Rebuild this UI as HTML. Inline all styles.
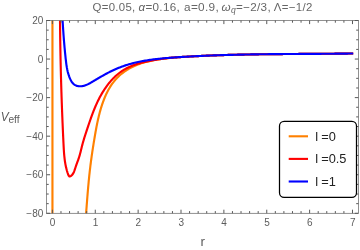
<!DOCTYPE html>
<html><head><meta charset="utf-8">
<style>
html,body{margin:0;padding:0;background:#fff;}
body{width:360px;height:250px;overflow:hidden;position:relative;font-family:"Liberation Sans",sans-serif;}
svg{position:absolute;left:0;top:0;will-change:transform;}
text{font-family:"Liberation Sans",sans-serif;}
</style></head><body>
<svg width="360" height="250" viewBox="0 0 360 250">
<rect width="360" height="250" fill="#fff"/>
<defs><clipPath id="cp"><rect x="46.50" y="20.50" width="311.90" height="192.80"/></clipPath></defs>
<g font-size="11.3" fill="#666" letter-spacing="0.3">
<text transform="translate(92.5,10.8) scale(1.01,1)">Q=0.05,</text>
<text transform="translate(138.5,10.8) scale(1.03,1)"><tspan font-style="italic">α</tspan>=0.16,</text>
<text transform="translate(184.0,10.8) scale(1.045,1)">a=0.9,</text>
<text transform="translate(221.5,10.8) scale(1.035,1)"><tspan font-style="italic">ω</tspan><tspan font-style="italic" font-size="8.3" dy="2.2">q</tspan><tspan dy="-2.2">=−2/3,</tspan></text>
<text transform="translate(273.8,10.8) scale(1.015,1)">Λ=−1/2</text>
</g>
<g clip-path="url(#cp)" fill="none" stroke-width="2.15" stroke-linejoin="round">
<path d="M52.45,0 L52.45,230" stroke="#FF8000"/>
<path d="M85.16,224.99 L85.26,223.80 L85.36,222.61 L85.46,221.41 L85.56,220.22 L85.65,219.02 L85.75,217.83 L85.84,216.63 L85.94,215.44 L86.03,214.24 L86.12,213.04 L86.21,211.85 L86.31,210.65 L86.40,209.45 L86.49,208.25 L86.58,207.05 L86.67,205.86 L86.76,204.66 L86.86,203.46 L86.95,202.26 L87.04,201.06 L87.13,199.86 L87.23,198.66 L87.32,197.46 L87.42,196.26 L87.51,195.06 L87.61,193.87 L87.71,192.67 L87.81,191.47 L87.91,190.27 L88.01,189.07 L88.12,187.87 L88.22,186.68 L88.33,185.48 L88.44,184.28 L88.55,183.08 L88.66,181.89 L88.77,180.69 L88.89,179.49 L89.01,178.30 L89.13,177.10 L89.25,175.91 L89.38,174.72 L89.51,173.52 L89.64,172.33 L89.77,171.14 L89.91,169.95 L90.05,168.76 L90.19,167.57 L90.33,166.38 L90.48,165.19 L90.63,164.00 L90.78,162.81 L90.94,161.62 L91.10,160.44 L91.26,159.25 L91.42,158.07 L91.59,156.88 L91.75,155.70 L91.93,154.51 L92.10,153.33 L92.27,152.14 L92.45,150.96 L92.63,149.78 L92.81,148.59 L92.99,147.41 L93.18,146.23 L93.37,145.05 L93.55,143.86 L93.75,142.68 L93.94,141.50 L94.13,140.32 L94.33,139.13 L94.53,137.95 L94.73,136.77 L94.93,135.59 L95.13,134.41 L95.34,133.22 L95.54,132.04 L95.75,130.86 L95.97,129.68 L96.19,128.50 L96.41,127.32 L96.64,126.14 L96.87,124.96 L97.11,123.78 L97.35,122.61 L97.60,121.43 L97.86,120.25 L98.12,119.08 L98.39,117.91 L98.67,116.73 L98.96,115.56 L99.25,114.39 L99.55,113.22 L99.86,112.06 L100.19,110.89 L100.52,109.73 L100.86,108.57 L101.21,107.41 L101.57,106.25 L101.95,105.09 L102.33,103.94 L102.73,102.79 L103.14,101.65 L103.56,100.51 L104.00,99.37 L104.45,98.24 L104.91,97.12 L105.39,96.01 L105.89,94.90 L106.40,93.81 L106.92,92.72 L107.46,91.64 L108.02,90.58 L108.60,89.52 L109.19,88.48 L109.80,87.45 L110.43,86.44 L111.07,85.44 L111.74,84.45 L112.42,83.49 L113.13,82.53 L113.85,81.60 L114.60,80.68 L115.37,79.78 L116.16,78.90 L116.97,78.04 L117.79,77.20 L118.64,76.38 L119.51,75.58 L120.40,74.79 L121.30,74.03 L122.22,73.29 L123.16,72.56 L124.12,71.86 L125.09,71.17 L126.07,70.51 L127.07,69.87 L128.09,69.24 L129.12,68.64 L130.16,68.05 L131.21,67.49 L132.28,66.95 L133.35,66.43 L134.44,65.92 L135.54,65.44 L136.65,64.98 L137.77,64.54 L138.89,64.12 L140.03,63.72 L141.17,63.33 L142.32,62.97 L143.47,62.62 L144.64,62.29 L145.80,61.97 L146.97,61.67 L148.15,61.38 L149.33,61.11 L150.51,60.85 L151.70,60.60 L152.89,60.37 L154.08,60.14 L155.27,59.93 L156.46,59.73 L157.65,59.54 L158.85,59.35 L160.04,59.18 L161.24,59.01 L162.44,58.84 L163.63,58.66 L164.83,58.50 L166.03,58.34 L167.23,58.20 L168.43,58.06 L169.63,57.93 L170.83,57.81 L172.02,57.70 L173.22,57.59 L174.42,57.49 L175.62,57.40 L176.82,57.31 L178.01,57.22 L179.21,57.15 L180.41,57.07 L181.61,56.99 L182.80,56.92 L184.00,56.85 L185.20,56.77 L186.40,56.70 L187.59,56.63 L188.79,56.56 L189.99,56.50 L191.18,56.43 L192.38,56.37 L193.58,56.30 L194.78,56.24 L195.97,56.18 L197.17,56.12 L198.37,56.06 L199.56,56.01 L200.76,55.95 L201.96,55.89 L203.15,55.84 L204.35,55.79 L205.55,55.73 L206.74,55.68 L207.94,55.63 L209.14,55.58 L210.34,55.54 L211.53,55.49 L212.73,55.44 L213.93,55.40 L215.13,55.35 L216.32,55.31 L217.52,55.27 L218.72,55.23 L219.92,55.19 L221.11,55.15 L222.31,55.11 L223.51,55.07 L224.71,55.04 L225.91,55.00 L227.11,54.97 L228.30,54.93 L229.50,54.90 L230.70,54.87 L231.90,54.84 L233.10,54.80 L234.30,54.77 L235.50,54.74 L236.70,54.72 L237.90,54.69 L239.10,54.66 L240.30,54.63 L241.50,54.61 L242.70,54.58 L243.90,54.56 L245.10,54.54 L246.30,54.51 L247.50,54.49 L248.70,54.47 L249.90,54.45 L251.11,54.43 L252.31,54.41 L253.51,54.39 L254.71,54.37 L255.91,54.35 L257.11,54.33 L258.31,54.32 L259.51,54.30 L260.72,54.28 L261.92,54.27 L263.12,54.25 L264.32,54.24 L265.52,54.22 L266.72,54.21 L267.93,54.19 L269.13,54.18 L270.33,54.17 L271.53,54.16 L272.73,54.14 L273.94,54.13 L275.14,54.12 L276.34,54.11 L277.54,54.10 L278.74,54.09 L279.95,54.08 L281.15,54.07 L282.35,54.06 L283.55,54.05 L284.75,54.04 L285.96,54.03 L287.16,54.02 L288.36,54.01 L289.56,54.01 L290.77,54.00 L291.97,53.99 L293.17,53.98 L294.37,53.97 L295.57,53.97 L296.78,53.96 L297.98,53.95 L299.18,53.94 L300.38,53.94 L301.58,53.93 L302.79,53.92 L303.99,53.91 L305.19,53.91 L306.39,53.90 L307.59,53.89 L308.79,53.89 L310.00,53.88 L311.20,53.87 L312.40,53.86 L313.60,53.86 L314.80,53.85 L316.00,53.84 L317.20,53.83 L318.41,53.82 L319.61,53.82 L320.81,53.81 L322.01,53.80 L323.21,53.79 L324.41,53.78 L325.61,53.77 L326.81,53.76 L328.01,53.75 L329.21,53.74 L330.41,53.73 L331.61,53.72 L332.81,53.71 L334.01,53.70 L335.21,53.69 L336.41,53.68 L337.61,53.67 L338.81,53.66 L340.01,53.64 L341.21,53.63 L342.41,53.62 L343.61,53.60 L344.81,53.59 L346.00,53.58 L347.20,53.56 L348.40,53.55 L349.60,53.53 L350.80,53.51 L352.00,53.50 L353.19,53.48" stroke="#FF8000"/>
<path d="M59.95,-0.02 L59.95,1.19 L59.95,2.39 L59.95,3.59 L59.95,4.80 L59.96,6.00 L59.96,7.20 L59.96,8.41 L59.97,9.61 L59.97,10.81 L59.98,12.01 L59.98,13.22 L59.99,14.42 L59.99,15.62 L60.00,16.82 L60.01,18.02 L60.02,19.23 L60.03,20.43 L60.03,21.63 L60.04,22.83 L60.05,24.03 L60.06,25.23 L60.07,26.43 L60.09,27.63 L60.10,28.83 L60.11,30.03 L60.12,31.23 L60.14,32.43 L60.15,33.63 L60.16,34.83 L60.18,36.03 L60.19,37.23 L60.21,38.43 L60.23,39.63 L60.24,40.83 L60.26,42.03 L60.28,43.23 L60.30,44.43 L60.32,45.63 L60.34,46.83 L60.36,48.03 L60.38,49.23 L60.40,50.43 L60.42,51.63 L60.44,52.82 L60.46,54.02 L60.48,55.22 L60.51,56.42 L60.53,57.62 L60.55,58.82 L60.58,60.02 L60.60,61.21 L60.63,62.41 L60.66,63.61 L60.68,64.81 L60.71,66.01 L60.74,67.21 L60.77,68.41 L60.79,69.60 L60.82,70.80 L60.85,72.00 L60.88,73.20 L60.91,74.40 L60.94,75.60 L60.98,76.79 L61.01,77.99 L61.04,79.19 L61.07,80.39 L61.11,81.59 L61.14,82.79 L61.18,83.98 L61.21,85.18 L61.25,86.38 L61.28,87.58 L61.32,88.78 L61.36,89.98 L61.39,91.18 L61.43,92.38 L61.47,93.57 L61.51,94.77 L61.55,95.97 L61.59,97.17 L61.63,98.37 L61.67,99.57 L61.71,100.77 L61.75,101.97 L61.79,103.17 L61.84,104.37 L61.88,105.57 L61.92,106.76 L61.97,107.96 L62.01,109.16 L62.06,110.36 L62.10,111.56 L62.15,112.76 L62.20,113.96 L62.24,115.16 L62.29,116.36 L62.34,117.56 L62.39,118.77 L62.44,119.97 L62.48,121.17 L62.53,122.37 L62.59,123.57 L62.64,124.77 L62.69,125.97 L62.74,127.17 L62.79,128.37 L62.85,129.58 L62.90,130.78 L62.95,131.98 L63.01,133.18 L63.06,134.38 L63.12,135.59 L63.17,136.79 L63.23,137.99 L63.29,139.20 L63.34,140.40 L63.40,141.60 L63.46,142.81 L63.52,144.01 L63.58,145.21 L63.64,146.42 L63.70,147.62 L63.77,148.82 L63.84,150.03 L63.92,151.23 L64.00,152.43 L64.09,153.63 L64.19,154.83 L64.30,156.02 L64.43,157.22 L64.56,158.41 L64.71,159.60 L64.87,160.79 L65.04,161.98 L65.23,163.16 L65.44,164.34 L65.67,165.52 L65.92,166.69 L66.18,167.86 L66.47,169.03 L66.78,170.19 L67.12,171.35 L67.47,172.50 L67.86,173.65 L68.27,174.78 L68.76,175.76 L69.38,176.34 L70.17,176.36 L71.09,175.88 L72.01,175.04 L72.83,174.01 L73.50,172.88 L74.05,171.68 L74.52,170.45 L74.93,169.20 L75.32,167.97 L75.71,166.77 L76.11,165.60 L76.52,164.46 L76.92,163.34 L77.33,162.24 L77.73,161.15 L78.13,160.06 L78.51,158.97 L78.88,157.88 L79.23,156.77 L79.57,155.64 L79.89,154.50 L80.20,153.34 L80.50,152.18 L80.79,151.01 L81.08,149.84 L81.36,148.66 L81.65,147.48 L81.95,146.30 L82.25,145.13 L82.55,143.96 L82.87,142.79 L83.20,141.63 L83.54,140.48 L83.88,139.33 L84.23,138.18 L84.58,137.03 L84.94,135.89 L85.31,134.75 L85.68,133.61 L86.05,132.48 L86.43,131.34 L86.80,130.20 L87.18,129.07 L87.56,127.93 L87.94,126.80 L88.32,125.66 L88.71,124.52 L89.09,123.39 L89.48,122.25 L89.87,121.11 L90.26,119.98 L90.66,118.85 L91.06,117.72 L91.47,116.59 L91.88,115.46 L92.30,114.33 L92.72,113.21 L93.15,112.09 L93.59,110.97 L94.03,109.85 L94.48,108.74 L94.94,107.63 L95.41,106.53 L95.88,105.43 L96.37,104.33 L96.86,103.24 L97.37,102.15 L97.88,101.07 L98.41,99.99 L98.94,98.92 L99.49,97.85 L100.05,96.79 L100.63,95.73 L101.21,94.68 L101.81,93.64 L102.43,92.60 L103.05,91.57 L103.70,90.55 L104.35,89.54 L105.02,88.54 L105.70,87.54 L106.40,86.56 L107.11,85.58 L107.84,84.62 L108.58,83.67 L109.34,82.74 L110.11,81.82 L110.90,80.91 L111.70,80.01 L112.51,79.14 L113.35,78.27 L114.19,77.43 L115.05,76.60 L115.93,75.79 L116.82,75.00 L117.73,74.23 L118.66,73.48 L119.60,72.75 L120.55,72.04 L121.52,71.35 L122.51,70.69 L123.51,70.05 L124.53,69.43 L125.57,68.84 L126.62,68.27 L127.69,67.72 L128.77,67.20 L129.86,66.71 L130.97,66.23 L132.09,65.77 L133.21,65.34 L134.35,64.92 L135.50,64.52 L136.65,64.14 L137.81,63.78 L138.97,63.43 L140.14,63.10 L141.31,62.78 L142.49,62.47 L143.66,62.18 L144.84,61.90 L146.01,61.63 L147.19,61.38 L148.37,61.13 L149.54,60.89 L150.72,60.67 L151.90,60.45 L153.08,60.24 L154.26,60.04 L155.44,59.84 L156.62,59.66 L157.80,59.48 L158.98,59.30 L160.16,59.13 L161.35,58.97 L162.53,58.80 L163.71,58.63 L164.90,58.46 L166.09,58.31 L167.27,58.16 L168.46,58.03 L169.65,57.90 L170.84,57.78 L172.03,57.67 L173.22,57.57 L174.41,57.47 L175.60,57.39 L176.80,57.31 L177.99,57.23 L179.18,57.15 L180.38,57.07 L181.57,56.99 L182.77,56.92 L183.96,56.85 L185.16,56.78 L186.36,56.70 L187.55,56.64 L188.75,56.57 L189.95,56.50 L191.15,56.43 L192.35,56.37 L193.55,56.31 L194.74,56.24 L195.94,56.18 L197.14,56.12 L198.35,56.06 L199.55,56.01 L200.75,55.95 L201.95,55.89 L203.15,55.84 L204.35,55.79 L205.55,55.73 L206.75,55.68 L207.96,55.63 L209.16,55.58 L210.36,55.54 L211.56,55.49 L212.77,55.44 L213.97,55.40 L215.17,55.35 L216.37,55.31 L217.58,55.27 L218.78,55.23 L219.98,55.19 L221.18,55.15 L222.39,55.11 L223.59,55.07 L224.79,55.03 L225.99,55.00 L227.19,54.96 L228.40,54.93 L229.60,54.90 L230.80,54.86 L232.00,54.83 L233.20,54.80 L234.40,54.77 L235.61,54.74 L236.81,54.71 L238.01,54.69 L239.21,54.66 L240.41,54.63 L241.61,54.61 L242.81,54.58 L244.01,54.56 L245.21,54.53 L246.41,54.51 L247.61,54.49 L248.81,54.47 L250.01,54.45 L251.21,54.43 L252.41,54.41 L253.61,54.39 L254.81,54.37 L256.01,54.35 L257.21,54.33 L258.41,54.31 L259.61,54.30 L260.81,54.28 L262.01,54.27 L263.21,54.25 L264.41,54.24 L265.60,54.22 L266.80,54.21 L268.00,54.19 L269.20,54.18 L270.40,54.17 L271.60,54.16 L272.80,54.14 L274.00,54.13 L275.20,54.12 L276.40,54.11 L277.59,54.10 L278.79,54.09 L279.99,54.08 L281.19,54.07 L282.39,54.06 L283.59,54.05 L284.79,54.04 L285.99,54.03 L287.18,54.02 L288.38,54.01 L289.58,54.01 L290.78,54.00 L291.98,53.99 L293.18,53.98 L294.38,53.97 L295.58,53.97 L296.78,53.96 L297.97,53.95 L299.17,53.94 L300.37,53.94 L301.57,53.93 L302.77,53.92 L303.97,53.91 L305.17,53.91 L306.37,53.90 L307.57,53.89 L308.77,53.89 L309.97,53.88 L311.17,53.87 L312.37,53.86 L313.56,53.86 L314.76,53.85 L315.96,53.84 L317.16,53.83 L318.36,53.82 L319.56,53.82 L320.76,53.81 L321.96,53.80 L323.16,53.79 L324.36,53.78 L325.57,53.77 L326.77,53.76 L327.97,53.75 L329.17,53.75 L330.37,53.74 L331.57,53.72 L332.77,53.71 L333.97,53.70 L335.17,53.69 L336.37,53.68 L337.58,53.67 L338.78,53.66 L339.98,53.64 L341.18,53.63 L342.38,53.62 L343.58,53.60 L344.79,53.59 L345.99,53.58 L347.19,53.56 L348.39,53.55 L349.60,53.53 L350.80,53.51 L352.00,53.50 L353.21,53.48" stroke="#FF0000"/>
<path d="M61.63,-0.01 L61.67,1.20 L61.73,2.41 L61.78,3.62 L61.83,4.83 L61.88,6.04 L61.93,7.25 L61.99,8.45 L62.05,9.66 L62.10,10.86 L62.16,12.07 L62.22,13.27 L62.28,14.47 L62.34,15.67 L62.41,16.87 L62.47,18.07 L62.54,19.27 L62.60,20.47 L62.67,21.67 L62.74,22.87 L62.81,24.06 L62.89,25.26 L62.96,26.46 L63.04,27.65 L63.11,28.85 L63.19,30.05 L63.28,31.24 L63.36,32.44 L63.44,33.63 L63.53,34.83 L63.62,36.02 L63.71,37.22 L63.80,38.41 L63.89,39.61 L63.99,40.80 L64.09,42.00 L64.19,43.20 L64.29,44.39 L64.40,45.59 L64.50,46.79 L64.61,47.98 L64.72,49.18 L64.84,50.38 L64.95,51.58 L65.07,52.78 L65.19,53.98 L65.31,55.18 L65.44,56.38 L65.56,57.58 L65.69,58.78 L65.83,59.98 L65.97,61.19 L66.11,62.39 L66.26,63.59 L66.43,64.79 L66.61,65.99 L66.80,67.19 L67.02,68.38 L67.25,69.57 L67.51,70.76 L67.79,71.94 L68.11,73.12 L68.45,74.28 L68.82,75.45 L69.23,76.60 L69.68,77.75 L70.17,78.89 L70.70,79.99 L71.29,81.05 L71.93,82.06 L72.64,82.98 L73.41,83.81 L74.26,84.54 L75.19,85.14 L76.20,85.61 L77.28,85.94 L78.41,86.16 L79.57,86.26 L80.76,86.25 L81.96,86.14 L83.15,85.94 L84.32,85.65 L85.47,85.29 L86.59,84.86 L87.69,84.37 L88.78,83.84 L89.85,83.27 L90.92,82.66 L91.98,82.04 L93.03,81.41 L94.08,80.78 L95.14,80.15 L96.19,79.52 L97.25,78.89 L98.30,78.27 L99.36,77.65 L100.42,77.04 L101.47,76.43 L102.53,75.83 L103.60,75.23 L104.66,74.64 L105.72,74.05 L106.79,73.48 L107.86,72.91 L108.94,72.35 L110.01,71.80 L111.09,71.26 L112.17,70.74 L113.26,70.22 L114.35,69.71 L115.44,69.22 L116.54,68.74 L117.64,68.27 L118.75,67.82 L119.86,67.38 L120.97,66.95 L122.09,66.54 L123.21,66.14 L124.34,65.75 L125.47,65.38 L126.60,65.01 L127.74,64.66 L128.88,64.32 L130.02,63.99 L131.17,63.68 L132.32,63.37 L133.48,63.07 L134.63,62.79 L135.80,62.51 L136.96,62.24 L138.12,61.99 L139.29,61.74 L140.46,61.50 L141.64,61.27 L142.82,61.05 L143.99,60.84 L145.17,60.64 L146.36,60.44 L147.54,60.25 L148.73,60.07 L149.92,59.89 L151.11,59.73 L152.30,59.56 L153.50,59.41 L154.69,59.26 L155.89,59.12 L157.09,58.98 L158.29,58.85 L159.49,58.72 L160.69,58.60 L161.89,58.48 L163.10,58.37 L164.30,58.26 L165.51,58.15 L166.71,58.05 L167.92,57.95 L169.13,57.86 L170.33,57.76 L171.54,57.67 L172.75,57.59 L173.96,57.50 L175.16,57.42 L176.37,57.33 L177.58,57.25 L178.78,57.17 L179.99,57.10 L181.20,57.02 L182.40,56.94 L183.61,56.87 L184.82,56.80 L186.02,56.72 L187.23,56.65 L188.43,56.58 L189.64,56.52 L190.84,56.45 L192.05,56.39 L193.25,56.32 L194.46,56.26 L195.66,56.20 L196.87,56.14 L198.07,56.08 L199.27,56.02 L200.48,55.96 L201.68,55.91 L202.89,55.85 L204.09,55.80 L205.29,55.75 L206.50,55.69 L207.70,55.64 L208.90,55.59 L210.10,55.55 L211.31,55.50 L212.51,55.45 L213.71,55.41 L214.91,55.36 L216.12,55.32 L217.32,55.28 L218.52,55.24 L219.72,55.20 L220.93,55.16 L222.13,55.12 L223.33,55.08 L224.53,55.04 L225.73,55.01 L226.93,54.97 L228.13,54.94 L229.34,54.90 L230.54,54.87 L231.74,54.84 L232.94,54.81 L234.14,54.78 L235.34,54.75 L236.54,54.72 L237.74,54.69 L238.94,54.66 L240.14,54.64 L241.35,54.61 L242.55,54.59 L243.75,54.56 L244.95,54.54 L246.15,54.52 L247.35,54.49 L248.55,54.47 L249.75,54.45 L250.95,54.43 L252.15,54.41 L253.35,54.39 L254.55,54.37 L255.75,54.35 L256.95,54.34 L258.15,54.32 L259.35,54.30 L260.55,54.28 L261.75,54.27 L262.95,54.25 L264.15,54.24 L265.35,54.22 L266.56,54.21 L267.76,54.20 L268.96,54.18 L270.16,54.17 L271.36,54.16 L272.56,54.15 L273.76,54.13 L274.96,54.12 L276.16,54.11 L277.36,54.10 L278.56,54.09 L279.76,54.08 L280.96,54.07 L282.16,54.06 L283.37,54.05 L284.57,54.04 L285.77,54.03 L286.97,54.02 L288.17,54.02 L289.37,54.01 L290.57,54.00 L291.78,53.99 L292.98,53.98 L294.18,53.97 L295.38,53.97 L296.58,53.96 L297.78,53.95 L298.99,53.94 L300.19,53.94 L301.39,53.93 L302.59,53.92 L303.80,53.92 L305.00,53.91 L306.20,53.90 L307.40,53.89 L308.61,53.89 L309.81,53.88 L311.01,53.87 L312.22,53.86 L313.42,53.86 L314.63,53.85 L315.83,53.84 L317.03,53.83 L318.24,53.83 L319.44,53.82 L320.65,53.81 L321.85,53.80 L323.06,53.79 L324.26,53.78 L325.47,53.77 L326.67,53.77 L327.88,53.76 L329.08,53.75 L330.29,53.74 L331.49,53.73 L332.70,53.71 L333.91,53.70 L335.11,53.69 L336.32,53.68 L337.53,53.67 L338.73,53.66 L339.94,53.64 L341.15,53.63 L342.36,53.62 L343.56,53.60 L344.77,53.59 L345.98,53.58 L347.19,53.56 L348.40,53.55 L349.61,53.53 L350.82,53.51 L352.02,53.50 L353.23,53.48" stroke="#0000FF"/>
</g>
<rect x="46.50" y="20.50" width="311.90" height="192.80" fill="none" stroke="#666" stroke-width="0.72"/>
<path d="M52.40,213.30 v-3.60 M52.40,20.50 v3.60 M60.97,213.30 v-2.20 M60.97,20.50 v2.20 M69.55,213.30 v-2.20 M69.55,20.50 v2.20 M78.12,213.30 v-2.20 M78.12,20.50 v2.20 M86.70,213.30 v-2.20 M86.70,20.50 v2.20 M95.27,213.30 v-3.60 M95.27,20.50 v3.60 M103.84,213.30 v-2.20 M103.84,20.50 v2.20 M112.42,213.30 v-2.20 M112.42,20.50 v2.20 M120.99,213.30 v-2.20 M120.99,20.50 v2.20 M129.57,213.30 v-2.20 M129.57,20.50 v2.20 M138.14,213.30 v-3.60 M138.14,20.50 v3.60 M146.71,213.30 v-2.20 M146.71,20.50 v2.20 M155.29,213.30 v-2.20 M155.29,20.50 v2.20 M163.86,213.30 v-2.20 M163.86,20.50 v2.20 M172.44,213.30 v-2.20 M172.44,20.50 v2.20 M181.01,213.30 v-3.60 M181.01,20.50 v3.60 M189.58,213.30 v-2.20 M189.58,20.50 v2.20 M198.16,213.30 v-2.20 M198.16,20.50 v2.20 M206.73,213.30 v-2.20 M206.73,20.50 v2.20 M215.31,213.30 v-2.20 M215.31,20.50 v2.20 M223.88,213.30 v-3.60 M223.88,20.50 v3.60 M232.45,213.30 v-2.20 M232.45,20.50 v2.20 M241.03,213.30 v-2.20 M241.03,20.50 v2.20 M249.60,213.30 v-2.20 M249.60,20.50 v2.20 M258.18,213.30 v-2.20 M258.18,20.50 v2.20 M266.75,213.30 v-3.60 M266.75,20.50 v3.60 M275.32,213.30 v-2.20 M275.32,20.50 v2.20 M283.90,213.30 v-2.20 M283.90,20.50 v2.20 M292.47,213.30 v-2.20 M292.47,20.50 v2.20 M301.05,213.30 v-2.20 M301.05,20.50 v2.20 M309.62,213.30 v-3.60 M309.62,20.50 v3.60 M318.19,213.30 v-2.20 M318.19,20.50 v2.20 M326.77,213.30 v-2.20 M326.77,20.50 v2.20 M335.34,213.30 v-2.20 M335.34,20.50 v2.20 M343.92,213.30 v-2.20 M343.92,20.50 v2.20 M352.49,213.30 v-3.60 M352.49,20.50 v3.60 M46.50,213.30 h3.60 M358.40,213.30 h-3.60 M46.50,203.66 h2.20 M358.40,203.66 h-2.20 M46.50,194.02 h2.20 M358.40,194.02 h-2.20 M46.50,184.38 h2.20 M358.40,184.38 h-2.20 M46.50,174.74 h3.60 M358.40,174.74 h-3.60 M46.50,165.10 h2.20 M358.40,165.10 h-2.20 M46.50,155.46 h2.20 M358.40,155.46 h-2.20 M46.50,145.82 h2.20 M358.40,145.82 h-2.20 M46.50,136.18 h3.60 M358.40,136.18 h-3.60 M46.50,126.54 h2.20 M358.40,126.54 h-2.20 M46.50,116.90 h2.20 M358.40,116.90 h-2.20 M46.50,107.26 h2.20 M358.40,107.26 h-2.20 M46.50,97.62 h3.60 M358.40,97.62 h-3.60 M46.50,87.98 h2.20 M358.40,87.98 h-2.20 M46.50,78.34 h2.20 M358.40,78.34 h-2.20 M46.50,68.70 h2.20 M358.40,68.70 h-2.20 M46.50,59.06 h3.60 M358.40,59.06 h-3.60 M46.50,49.42 h2.20 M358.40,49.42 h-2.20 M46.50,39.78 h2.20 M358.40,39.78 h-2.20 M46.50,30.14 h2.20 M358.40,30.14 h-2.20 M46.50,20.50 h3.60 M358.40,20.50 h-3.60" stroke="#585858" stroke-width="1" fill="none"/>
<g font-size="10" fill="#5c5c5c">
<text x="52.60" y="225.6" text-anchor="middle">0</text>
<text x="95.47" y="225.6" text-anchor="middle">1</text>
<text x="138.34" y="225.6" text-anchor="middle">2</text>
<text x="181.21" y="225.6" text-anchor="middle">3</text>
<text x="224.08" y="225.6" text-anchor="middle">4</text>
<text x="266.95" y="225.6" text-anchor="middle">5</text>
<text x="309.82" y="225.6" text-anchor="middle">6</text>
<text x="352.69" y="225.6" text-anchor="middle">7</text>
<text x="43.3" y="24.10" text-anchor="end">20</text>
<text x="43.3" y="62.66" text-anchor="end">0</text>
<text x="43.3" y="101.22" text-anchor="end">−20</text>
<text x="43.3" y="139.78" text-anchor="end">−40</text>
<text x="43.3" y="178.34" text-anchor="end">−60</text>
<text x="43.3" y="216.90" text-anchor="end">−80</text>
</g>
<text transform="translate(0.7,121.4) scale(0.9,1)" font-size="13.2" fill="#5c5c5c" font-style="italic">V</text>
<text x="8.45" y="123.4" font-size="10.2" fill="#5c5c5c">eff</text>
<text x="200.4" y="245.6" font-size="13.4" fill="#5c5c5c">r</text>
<rect x="279.5" y="121.3" width="77" height="76.1" rx="4.6" ry="4.6" fill="#fff" stroke="#000" stroke-width="1.25"/>
<path d="M288.7,136.30 H308" stroke="#FF8000" stroke-width="2.1"/>
<text x="315.3" y="140.80" font-size="13" fill="#222">l</text>
<text x="321.2" y="140.80" font-size="12.8" fill="#222">=0</text>
<path d="M288.7,158.90 H308" stroke="#FF0000" stroke-width="2.1"/>
<text x="315.3" y="163.40" font-size="13" fill="#222">l</text>
<text x="321.2" y="163.40" font-size="12.8" fill="#222">=0.5</text>
<path d="M288.7,181.50 H308" stroke="#0000FF" stroke-width="2.1"/>
<text x="315.3" y="186.00" font-size="13" fill="#222">l</text>
<text x="321.2" y="186.00" font-size="12.8" fill="#222">=1</text>
</svg>
</body></html>
